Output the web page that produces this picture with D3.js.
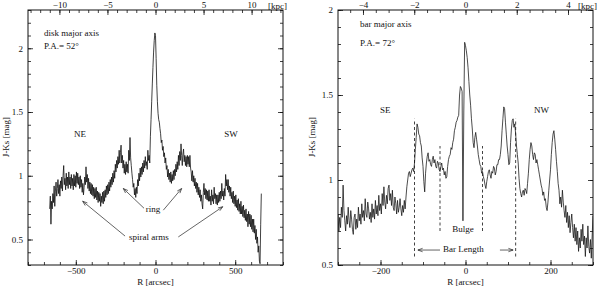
<!DOCTYPE html>
<html><head><meta charset="utf-8">
<script src="https://cdn.jsdelivr.net/npm/d3@7"></script>
<style>
body{margin:0;background:#fff}
svg text{font-family:"Liberation Serif","DejaVu Serif",serif;fill:#111}
</style>
</head><body>
<svg id="c" width="600" height="287"></svg>
<script>
// ---------- data ----------
// Disk major axis profile (J-Ks vs R), sampled from R = -664" every 4"
const diskStart = -664, diskStep = 4;
const diskValues = [
 0.74,0.84,0.62,0.80,0.74,0.86,0.79,0.92,0.76,0.88,0.95,0.84,0.90,0.97,0.86,0.93,0.84,0.96,0.90,0.99,
 0.88,1.00,1.08,0.93,0.98,0.89,1.02,0.92,0.99,0.90,1.03,0.93,0.99,0.90,1.01,0.92,0.98,0.89,1.01,0.92,
 1.00,0.91,1.03,0.94,1.02,0.93,0.99,0.90,1.00,0.91,0.97,0.87,0.94,0.85,0.91,0.99,0.93,1.07,0.95,1.01,
 0.90,0.98,0.88,0.95,0.86,0.94,0.85,0.93,0.84,0.91,0.82,0.90,0.83,0.91,0.81,0.88,0.79,0.87,0.80,0.86,
 0.76,0.84,0.79,0.87,0.78,0.88,0.80,0.89,0.83,0.92,0.85,0.93,0.86,0.95,0.88,0.97,0.91,0.99,0.93,1.02,
 0.95,1.04,0.98,1.09,1.03,1.12,1.06,1.15,1.09,1.20,1.10,1.18,1.24,1.10,1.16,1.06,1.12,1.02,1.09,1.01,
 1.11,1.03,1.09,1.02,1.20,1.12,1.30,1.14,1.08,1.02,0.97,0.91,0.94,0.85,0.90,0.83,0.91,0.86,0.97,0.92,
 1.02,0.96,1.06,0.99,1.07,1.01,1.10,1.03,1.12,1.06,1.15,1.08,1.11,1.05,1.20,1.12,1.16,1.10,1.31,1.44,
 1.58,1.72,1.85,1.97,2.06,2.12,2.10,1.92,1.71,1.58,1.49,1.44,1.42,1.37,1.33,1.26,1.28,1.20,1.23,1.15,
 1.18,1.10,1.14,1.05,1.08,0.99,1.05,0.97,1.02,0.95,1.03,0.94,1.01,0.96,1.04,0.97,1.05,1.00,1.09,1.03,
 1.11,1.05,1.16,1.08,1.19,1.12,1.25,1.16,1.08,1.17,1.21,1.11,1.16,1.08,1.15,1.07,1.16,1.09,1.15,1.07,
 1.16,1.06,1.03,0.96,1.04,0.95,1.00,0.92,0.98,0.90,0.95,0.87,0.94,0.85,0.91,0.83,0.89,0.80,0.85,0.78,
 0.74,0.87,0.94,0.85,0.90,0.82,0.89,0.81,0.88,0.80,0.89,0.80,0.84,0.77,0.89,0.80,0.85,0.78,0.91,0.82,
 0.86,0.78,0.85,0.77,0.85,0.79,0.87,0.80,0.88,0.82,0.94,0.84,0.88,0.81,0.90,0.84,1.01,0.92,0.97,0.89,
 0.97,0.87,0.92,0.84,0.91,0.82,0.87,0.79,0.88,0.78,0.84,0.76,0.85,0.75,0.81,0.73,0.82,0.72,0.78,0.70,
 0.80,0.70,0.76,0.68,0.77,0.67,0.73,0.65,0.74,0.64,0.70,0.60,0.72,0.62,0.70,0.60,0.69,0.58,0.66,0.56,
 0.66,0.55,0.61,0.50,0.58,0.47,0.52,0.40,0.45,0.33,0.31,0.62,0.86
];
// Bar major axis profile, sampled from R = -300" every 2"
const barStart = -300, barStep = 2;
const barValues = [
 0.80,0.70,0.78,0.72,0.84,0.78,0.97,0.82,0.76,0.70,0.79,0.74,0.84,0.76,0.72,0.82,0.77,0.71,0.68,0.78,
 0.80,0.71,0.77,0.72,0.84,0.76,0.80,0.74,0.86,0.78,0.82,0.76,0.89,0.80,0.78,0.87,0.83,0.77,0.81,0.75,
 0.86,0.78,0.83,0.77,0.88,0.80,0.85,0.79,0.91,0.82,0.86,0.80,0.92,0.85,0.96,0.87,0.83,0.91,0.86,0.95,
 0.97,0.88,0.92,0.85,0.94,0.84,0.82,0.90,0.86,0.80,0.88,0.81,0.84,0.89,0.83,0.79,0.85,0.81,0.88,0.83,
 0.90,0.96,1.00,1.04,1.05,1.02,1.04,1.06,1.07,1.05,1.10,1.18,1.25,1.33,1.31,1.27,1.26,1.22,1.20,1.13,
 1.08,0.99,0.93,1.04,1.10,1.14,1.16,1.11,1.12,1.09,1.08,1.12,1.14,1.10,1.12,1.08,1.07,1.11,1.10,1.06,
 1.05,1.08,1.10,1.06,1.07,1.03,1.05,1.01,1.02,1.08,1.12,1.14,1.15,1.19,1.18,1.22,1.24,1.29,1.31,1.34,
 1.35,1.37,1.38,1.50,1.55,1.54,1.52,0.76,1.40,1.81,1.79,1.76,1.72,1.66,1.58,1.50,1.44,1.36,1.30,1.22,
 1.19,1.25,1.28,1.24,1.20,1.15,1.12,1.09,1.08,1.04,1.05,1.02,1.00,0.97,0.95,0.99,1.02,1.05,1.06,1.03,
 1.01,1.05,1.04,1.08,1.07,1.03,1.05,1.09,1.09,1.12,1.12,1.15,1.20,1.29,1.36,1.43,1.42,1.34,1.27,1.20,
 1.15,1.09,1.10,1.22,1.30,1.35,1.36,1.31,1.33,1.27,1.20,1.15,1.10,1.01,0.95,0.92,0.90,0.93,0.94,0.91,
 0.95,0.94,0.92,0.98,1.04,1.12,1.18,1.22,1.20,1.15,1.12,1.16,1.15,1.10,1.12,1.09,1.06,1.03,1.00,0.97,
 0.95,0.91,0.93,0.88,0.89,0.84,0.82,0.87,0.94,1.00,1.06,1.15,1.22,1.27,1.29,1.24,1.18,1.11,1.05,0.98,
 0.94,0.86,0.90,0.84,0.94,0.87,0.82,0.78,0.85,0.75,0.81,0.72,0.79,0.69,0.75,0.80,0.72,0.66,0.74,0.64,
 0.72,0.62,0.70,0.58,0.66,0.60,0.71,0.64,0.74,0.62,0.67,0.55,0.66,0.60,0.73,0.61,0.57,0.65,0.54,0.67,
 0.79
];
const arcsecPerKpc = 60.3;

// tick labels
const diskXTicks = [-500, 0, 500];
const diskKpcTicks = [-10, -5, 0, 5, 10];
const diskYTicks = [0.5, 1, 1.5, 2];
const barXTicks = [-200, 0, 200];
const barKpcTicks = [-4, -2, 0, 2, 4];
const barYTicks = [0.5, 1, 1.5, 2];

// annotations (data units)
const diskLabels = [
 {t:"disk major axis", r:-700, v:2.096, a:"start"},
 {t:"P.A.= 52°", r:-700, v:1.994, a:"start"},
 {t:"NE", r:-474, v:1.304, a:"middle"},
 {t:"SW", r:474, v:1.304, a:"middle"},
 {t:"ring", r:-16, v:0.716, a:"middle"},
 {t:"spiral arms", r:-41, v:0.496, a:"middle"}
];
const diskArrows = [
 {r0:-72, v0:0.745, r1:-202, v1:0.90},
 {r0:49, v0:0.73, r1:164, v1:0.90},
 {r0:-191, v0:0.527, r1:-457, v1:0.80},
 {r0:143, v0:0.52, r1:422, v1:0.757}
];
const barLabels = [
 {t:"bar major axis", r:-248, v:1.90, a:"start"},
 {t:"P.A.= 72°", r:-248, v:1.788, a:"start"},
 {t:"SE", r:-189, v:1.394, a:"middle"},
 {t:"NW", r:179, v:1.394, a:"middle"},
 {t:"Bulge", r:-6, v:0.694, a:"middle"},
 {t:"Bar Length", r:-5, v:0.576, a:"middle"}
];
const barArrows = [
 {r0:-60, v0:0.588, r1:-112, v1:0.588},
 {r0:81, v0:0.588, r1:112, v1:0.588}
];
const barDashes = [
 {r:-120, v0:0.55, v1:1.36},
 {r:-60, v0:0.70, v1:1.20},
 {r:40, v0:0.70, v1:1.20},
 {r:118, v0:0.55, v1:1.36}
];

// ---------- drawing ----------
const svg = d3.select("#c");
const TOP = 10, BOT = 265;

function panel(cfg) {
  const g = svg.append("g");
  const x = d3.scaleLinear().domain(cfg.xDomain).range([cfg.x0, cfg.x1]);
  const y = d3.scaleLinear().domain(cfg.yDomain).range([BOT, TOP]);
  const xk = d3.scaleLinear().domain(cfg.xDomain.map(d => d / arcsecPerKpc)).range([cfg.x0, cfg.x1]);
  const fmt = d => String(d).replace("-", "\u2212");

  function ax(axis, tr) {
    const a = g.append("g").attr("transform", tr).call(axis);
    a.select(".domain").remove();
    a.selectAll("line").attr("stroke", "#111").attr("stroke-width", 0.8);
    a.selectAll("text").attr("font-family", "Liberation Serif, serif").attr("font-size", 9).attr("fill", "#111");
    return a;
  }
  // bottom
  ax(d3.axisBottom(x).tickValues(cfg.xMinor).tickSize(-3).tickFormat(""), `translate(0,${BOT})`);
  ax(d3.axisBottom(x).tickValues(cfg.xTicks).tickSize(-5).tickPadding(3).tickFormat(fmt), `translate(0,${BOT})`);
  // top (kpc)
  ax(d3.axisTop(xk).tickValues(cfg.kMinor).tickSize(-3).tickFormat(""), `translate(0,${TOP})`);
  ax(d3.axisTop(xk).tickValues(cfg.kTicks).tickSize(-5).tickPadding(2).tickFormat(fmt), `translate(0,${TOP})`);
  // left
  ax(d3.axisLeft(y).tickValues(cfg.yMinor).tickSize(-3).tickFormat(""), `translate(${cfg.x0},0)`);
  ax(d3.axisLeft(y).tickValues(cfg.yTicks).tickSize(-5).tickPadding(5).tickFormat(fmt), `translate(${cfg.x0},0)`);
  // right
  ax(d3.axisRight(y).tickValues(cfg.yMinor).tickSize(-3).tickFormat(""), `translate(${cfg.x1},0)`);
  ax(d3.axisRight(y).tickValues(cfg.yTicks).tickSize(-5).tickFormat(""), `translate(${cfg.x1},0)`);

  g.append("rect").attr("x", cfg.x0).attr("y", TOP).attr("width", cfg.x1 - cfg.x0).attr("height", BOT - TOP)
    .attr("fill", "none").attr("stroke", "#111").attr("stroke-width", 1);

  g.append("text").attr("x", cfg.x1 - 15).attr("y", 8.5).attr("font-size", 9).text("[kpc]");
  g.append("text").attr("x", (cfg.x0 + cfg.x1) / 2).attr("y", 285).attr("text-anchor", "middle").attr("font-size", 9).text("R [arcsec]");
  g.append("text").attr("transform", `translate(${cfg.x0 - cfg.titleOff},137) rotate(-90)`).attr("text-anchor", "middle").attr("font-size", 9).text("J-Ks [mag]");

  // profile
  const pts = cfg.values.map((v, i) => [cfg.start + i * cfg.step, v]);
  const clipId = "clip" + cfg.x0;
  svg.append("clipPath").attr("id", clipId).append("rect")
    .attr("x", cfg.x0).attr("y", TOP).attr("width", cfg.x1 - cfg.x0).attr("height", BOT - TOP);
  g.append("path").datum(pts).attr("clip-path", `url(#${clipId})`)
    .attr("fill", "none").attr("stroke", "#111").attr("stroke-width", cfg.lw).attr("stroke-linejoin", "miter")
    .attr("d", d3.line().x(d => x(d[0])).y(d => y(d[1])));

  // dashed lines
  g.selectAll(".dash").data(cfg.dashes || []).enter().append("line")
    .attr("x1", d => x(d.r)).attr("x2", d => x(d.r)).attr("y1", d => y(d.v0)).attr("y2", d => y(d.v1))
    .attr("stroke", "#111").attr("stroke-width", 0.8).attr("stroke-dasharray", "3,2.5");

  // labels
  g.selectAll(".lab").data(cfg.labels).enter().append("text")
    .attr("x", d => x(d.r)).attr("y", d => y(d.v)).attr("text-anchor", d => d.a)
    .attr("font-size", 9).text(d => d.t);

  // arrows
  cfg.arrows.forEach(a => {
    const X0 = x(a.r0), Y0 = y(a.v0), X1 = x(a.r1), Y1 = y(a.v1);
    const ang = Math.atan2(Y1 - Y0, X1 - X0);
    const L = 5, w = 0.35;
    const h1 = [X1 - L * Math.cos(ang - w), Y1 - L * Math.sin(ang - w)];
    const h2 = [X1 - L * Math.cos(ang + w), Y1 - L * Math.sin(ang + w)];
    g.append("path").attr("fill", "none").attr("stroke", "#222").attr("stroke-width", 0.7)
      .attr("d", `M${X0},${Y0}L${X1},${Y1}M${h1[0]},${h1[1]}L${X1},${Y1}L${h2[0]},${h2[1]}`);
  });
}

panel({
  x0: 28, x1: 283, xDomain: [-800, 800], yDomain: [0.3, 2.3], titleOff: 19, lw: 0.8,
  xTicks: diskXTicks, xMinor: d3.range(-800, 801, 100),
  kTicks: diskKpcTicks, kMinor: d3.range(-13, 14, 1),
  yTicks: diskYTicks, yMinor: d3.range(3, 24).map(d => d / 10),
  values: diskValues, start: diskStart, step: diskStep,
  labels: diskLabels, arrows: diskArrows
});
panel({
  x0: 338, x1: 593, xDomain: [-300, 300], yDomain: [0.5, 2], titleOff: 23, lw: 0.75,
  xTicks: barXTicks, xMinor: d3.range(-300, 301, 50),
  kTicks: barKpcTicks, kMinor: d3.range(-9, 10).map(d => d / 2),
  yTicks: barYTicks, yMinor: d3.range(5, 21).map(d => d / 10),
  values: barValues, start: barStart, step: barStep,
  labels: barLabels, arrows: barArrows, dashes: barDashes
});
</script>
</body></html>
